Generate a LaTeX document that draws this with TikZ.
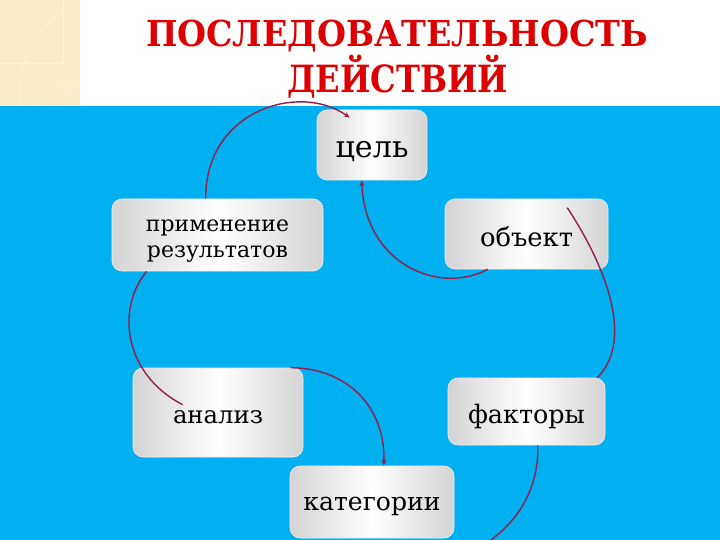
\documentclass[tikz,border=0pt]{standalone}
\usepackage{fontspec}
\usepackage{graphicx}
\setmainfont{DejaVu Serif}
\usetikzlibrary{arrows.meta,calc}
\definecolor{skyblue}{RGB}{0,176,240}
\definecolor{beige}{RGB}{250,236,196}
\definecolor{beigelight}{RGB}{253,244,218}
\definecolor{titlered}{RGB}{222,0,0}
\definecolor{arcred}{RGB}{150,30,75}
\definecolor{boxgray}{RGB}{212,212,212}
\newcommand{\fitw}[2]{\resizebox{#1}{!}{#2}}
\tikzset{
  box/.style={rectangle, rounded corners=10pt, draw=red!8, line width=0.6pt,
    left color=boxgray, right color=boxgray, middle color=white,
    inner sep=0pt, align=center, text depth=0pt, font=\fontsize{28}{28}\selectfont},
  arc/.style={draw=arcred, line width=1.4pt},
  tip/.style={-{Stealth[length=6pt,width=5pt]}},
  ttl/.style={text=titlered, font=\bfseries, anchor=base, inner sep=0pt}
}
\begin{document}
\begin{tikzpicture}[x=1pt,y=-1pt]
\useasboundingbox (0,0) rectangle (720,540);
\clip (0,0) rectangle (720,540);
% background
\fill[white] (0,0) rectangle (720,107);
\fill[skyblue] (0,106) rectangle (720,540);
\fill[beige] (0,0) rectangle (80,106);
\draw[beigelight, line width=0.8pt] (0,63) -- (63,63) -- (63,0);
\draw[beigelight, line width=0.8pt] (20,106) .. controls (15,60) and (40,20) .. (78,2);
\draw[beigelight, line width=0.8pt] (22,106) .. controls (35,87) and (60,82) .. (80,84);
\draw[beigelight, line width=0.8pt] (35,106) .. controls (45,95) and (62,91) .. (80,93);
% title
\node[ttl] (t1) at (397,47) {\resizebox{502pt}{\height}{\fontsize{35.7}{36}\selectfont ПОСЛЕДОВАТЕЛЬНОСТЬ}};
\node[ttl] (t2) at (397.5,93) {\resizebox{221pt}{\height}{\fontsize{37.5}{38}\selectfont ДЕЙСТВИЙ}};
% boxes
\node[box, minimum width=110pt, minimum height=70pt, text height=26pt] (goal) at (372,145) {\fitw{73pt}{цель}};
\node[box, minimum width=211pt, minimum height=72pt, text height=46pt, font=\fontsize{25}{27}\selectfont] (app) at (217.5,235) {\fitw{143pt}{применение}\\\fitw{141pt}{результатов}};
\node[box, minimum width=163pt, minimum height=70pt, text height=26pt] (obj) at (526.5,234) {\fitw{93pt}{объект}};
\node[box, minimum width=170pt, minimum height=89pt, text height=21pt] (anal) at (218,412.5) {\fitw{90pt}{анализ}};
\node[box, minimum width=157pt, minimum height=67pt, text height=23pt] (fact) at (526.5,411.5) {\fitw{117pt}{факторы}};
\node[box, minimum width=164pt, minimum height=72pt, text height=16pt] (cat) at (372,502) {\fitw{137pt}{категории}};
% anchor points on boxes
\coordinate (a1) at ([xshift=94pt]app.north west);
\coordinate (g1) at ([xshift=33pt,yshift=-8pt]goal.north west);
\coordinate (g2) at ([xshift=45pt]goal.south west);
\coordinate (o1) at ([xshift=43pt]obj.south west);
\coordinate (o2) at ([xshift=-41pt,yshift=-9pt]obj.north east);
\coordinate (f1) at ([xshift=-8pt]fact.north east);
\coordinate (f2) at ([xshift=90pt]fact.south west);
\coordinate (c1) at ([xshift=123pt,yshift=-30pt]cat.south west);
\coordinate (n1) at ([xshift=-13pt]anal.north east);
\coordinate (c2) at ([xshift=94pt]cat.north west);
\coordinate (a2) at ([xshift=35pt]app.south west);
\coordinate (n2) at ([xshift=50pt,yshift=-37pt]anal.north west);
% connectors
\draw[arc, tip] (a1) .. controls (205,110) and (300,82) .. (g1);
\draw[arc, tip] (o1) .. controls (440,295) and (365,265) .. (g2);
\draw[arc] (f1) .. controls (635,340) and (605,265) .. (o2);
\draw[arc] (f2) .. controls (540,510) and (490,560) .. (c1);
\draw[arc, tip] (n1) .. controls (350,368) and (386,410) .. (c2);
\draw[arc] (a2) .. controls (115,310) and (125,375) .. (n2);
\end{tikzpicture}
\end{document}
